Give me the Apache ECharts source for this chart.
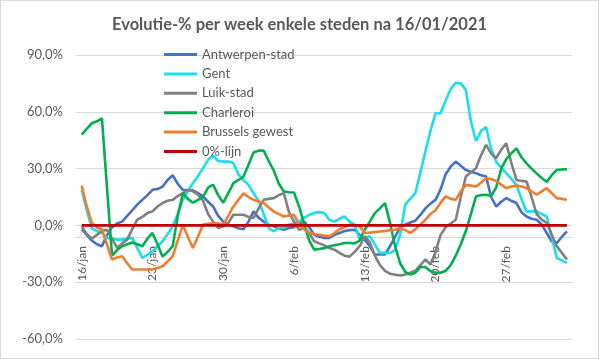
<!DOCTYPE html>
<html><head><meta charset="utf-8">
<script src="https://cdn.jsdelivr.net/npm/echarts@6/dist/echarts.min.js"></script>
<style>html,body{margin:0;padding:0;background:#fff}#c{width:597px;height:357px;border:1px solid #d9d9d9}</style>
</head><body><div id="c"></div>
<script>
// tick labels (one every 14 points)
const tickLabels = ['16/jan','23/jan','30/jan','6/feb','13/feb','20/feb','27/feb'];
const tickStep = 14;
const pointCount = 97;

const antwerpen = [-2,-5,-8,-10,-11,-5,-1,1,2,5,8,11,13.5,16,18.8,19.2,20.5,24,26.5,22,18.8,18.5,18.5,17,15.3,12.5,10,5,2,0.4,-0.5,-1.5,-2,2,7.4,4,2,0.4,-0.5,-1.5,-2.3,-1.4,-1,1,2,-1,-4.9,-6,-6.6,-6.6,-5,-4,-3,-2.5,-2.3,-5,-7.5,-11,-15.4,-15.4,-15.4,-11,-6,-1,0.4,1.5,2.5,5.5,9,11.5,13.5,19,27,31,33.7,31.5,29.3,28.3,27.6,26.5,25.8,15,10,12.5,14.4,13,11.8,7,4.7,3.5,3,0.5,-4,-8.5,-9.3,-6,-3.2];
const gent = [18.8,8,-1.4,-3,-4,-6.6,-7,-7.5,-7.5,-7,-6.6,-12,-17.2,-15.5,-13.7,-11,-8.4,-4.5,-0.5,6,13.5,18,22.3,26,30.2,34.6,37,34,33.7,33.7,33,27,24,21.4,17,13,6,-1.4,-3.2,-1,-1.4,0.4,1,2,4,5.6,6.5,7,6.5,3,2,3.5,4.7,2,0.4,-7.5,-6.5,-5.8,-10,-14.5,-14.5,-14.5,-13,-5,11,14,17,28,39,50,59.2,59.2,66,72,75.3,75,71.5,55,44.6,49.8,52,40.5,33.5,30.5,27.6,24.5,21.4,14,7.4,7.4,7.4,6,4.7,-6,-17.2,-18.5,-19.8];
const luik = [-0.5,-4.5,-7,-5,-3,-2.3,-7,-11.9,-9.5,-7.5,-2,3,4.5,6.5,7.4,10,11.8,13,13.5,15.5,17,18.8,18,16.2,13,6,2,-1.4,-0.5,1.3,5.6,5.6,5.6,4.5,3.9,9,13.5,14,14.4,16,17,7,2,-2.3,-1.4,-4,-8.4,-9.5,-10.5,-12,-12.8,-14.5,-16,-16.5,-14,-11,-5.8,-9,-16,-21,-24,-25.5,-26,-26.5,-26,-25,-24,-21,-18,-20.7,-14,-5,-1,1,3,15,25.8,28,30.2,37,42.5,38,35.5,40,43.4,33,24,23.5,23.2,15,6,3,1.3,-5,-11,-14.5,-18];
const charleroi = [48,51,54,55,56.5,20,-16,-13,-11,-10,-9,-10,-11,-7,-4,-10,-16.5,-14,-11,5,17,14,12,13.5,15,20,21.5,16,12,17,22.3,24,25.8,32,38.5,39.5,39.5,34,29,22,17.9,17.5,17.4,10,1,-8,-12.8,-12.5,-12,-11,-10.5,-10,-9.3,-9.3,-9.5,-8,-2.3,2,6.5,9,11.8,1.3,-11,-20,-24.5,-26,-25,-22,-22,-24.2,-25,-25,-24,-21,-16,-10,-3,6,15.3,16,16.2,15.5,20,30,35,38,40.7,36,32.8,30,27.5,25,23,26.5,29.3,29.5,29.7];
const brussel = [21,10,1.3,-1,-2.3,-10,-18,-17,-16.3,-20,-23.3,-23.3,-23.3,-23.3,-23.3,-22.5,-21.6,-19,-16.3,-8,0.4,-6,-11.9,-6,0.4,0.8,1.3,1,0.4,5,10,13.5,17,15,13.5,12.6,11.8,9.5,7.4,6,4.7,5.2,5.6,0.4,-2,-4,-4.5,-4.9,-5.4,-5.8,-4,-2,-1,0.4,0,-0.5,-4,-3.8,-3.5,-3.2,-3,-2.5,-2.3,-1.4,-2.5,-4,-2,0.4,3,6,8,12,15.3,14,13.5,18,21.4,21,20.5,22.5,24.9,24.5,23.5,21.5,19.7,20.5,21,20.5,19.7,18,16.2,18,19.7,17,14.4,14,13.5];
const nulLijn = new Array(pointCount).fill(0);

const seriesNames = ['Antwerpen-stad','Gent','Luik-stad','Charleroi','Brussels gewest','0%-lijn'];
const seriesData = [antwerpen, gent, luik, charleroi, brussel, nulLijn];
const colors = ['#4472C4','#1ADDED','#808080','#00B050','#ED7D31','#C00000'];

const tickValues = tickLabels.map((_, k) => k * tickStep);
const font = 'Lato, "Liberation Sans", sans-serif';

const chart = echarts.init(document.getElementById('c'));
chart.setOption({
  animation: false,
  textStyle: {fontFamily: font},
  title: {
    text: 'Evolutie-% per week enkele steden na 16/01/2021',
    left: 'center', top: 10,
    textStyle: {fontSize: 16.5, fontWeight: 'bold', color: '#595959', fontFamily: font}
  },
  legend: {
    orient: 'vertical', left: 158, top: 41,
    itemWidth: 33, itemHeight: 3, itemGap: 4.4, icon: 'rect',
    textStyle: {fontSize: 13, color: '#595959', lineHeight: 15},
    data: seriesNames
  },
  grid: {left: 75, right: 26, top: 54, bottom: 19},
  xAxis: {
    type: 'value', min: -1.13, max: 97,
    axisLine: {show: true, onZero: false, lineStyle: {color: '#d9d9d9'}},
    axisTick: {show: false},
    splitLine: {show: false},
    axisLabel: {
      customValues: tickValues,
      rotate: 90, margin: 9, fontSize: 12, color: '#595959',
      formatter: v => tickLabels[Math.round(v / tickStep)] || ''
    }
  },
  yAxis: {
    type: 'value', min: -60, max: 90, interval: 30,
    axisLine: {show: false, onZero: false}, axisTick: {show: false},
    splitLine: {lineStyle: {color: '#d9d9d9', width: 1}},
    axisLabel: {
      fontSize: 13, color: '#595959', margin: 13,
      formatter: v => v.toFixed(1).replace('.', ',') + '%'
    }
  },
  series: seriesData.map((d, k) => ({
    name: seriesNames[k], type: 'line', showSymbol: false, symbol: 'none',
    data: d.map((v, i) => [i, v]),
    lineStyle: {width: 2.6, color: colors[k]},
    itemStyle: {color: colors[k]}
  }))
});
// place the category axis (with its labels) on the 0% level, as in the original
const zeroPx = chart.convertToPixel({yAxisIndex: 0}, 0);
const bottomPx = chart.convertToPixel({yAxisIndex: 0}, -60);
chart.setOption({xAxis: {offset: -(bottomPx - zeroPx)}});
</script></body></html>
